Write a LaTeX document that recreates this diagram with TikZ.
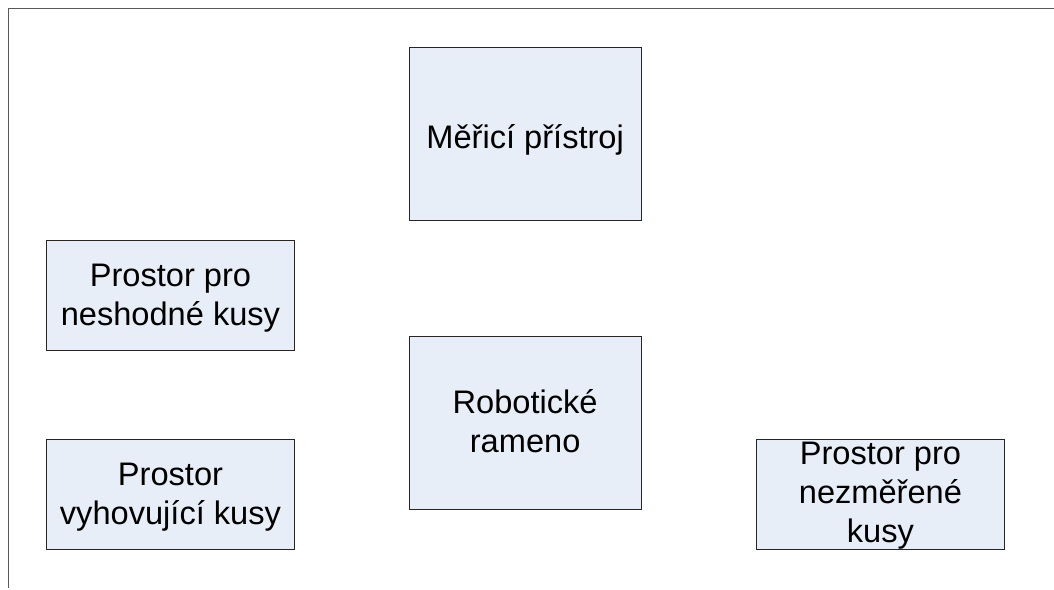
\documentclass[tikz,border=0pt]{standalone}
\usepackage{fontspec}
\setmainfont{Liberation Sans}
\definecolor{boxfill}{HTML}{E8EEF7}
\tikzset{
  box/.style={draw=black!85,line width=0.7pt,fill=boxfill,inner sep=0pt,anchor=north west},
  lbl/.style={align=center,font=\fontsize{32.6}{39}\selectfont,inner sep=0pt}}
\begin{document}
\begin{tikzpicture}[x=1pt,y=-1pt]
\useasboundingbox (0,0) rectangle (1054,589);
\coordinate (fa) at (8,588);
\coordinate (fb) at (8,8.8);
\coordinate (fc) at (1054,8.8);
\draw[line width=0.9pt,color=black!65] (fa) -- (fb) -- (fc);
\node[box,minimum width=231.6pt,minimum height=173pt,label={[lbl,yshift=-5.8pt]center:Měřicí přístroj}] (m) at (409,46.9) {};
\node[box,minimum width=231.6pt,minimum height=173pt,label={[lbl,yshift=1.2pt]center:Robotické\\rameno}] (r) at (409,336) {};
\node[box,minimum width=247.6pt,minimum height=110pt,label={[lbl,yshift=-3pt]center:Prostor pro\\neshodné kusy}] (n) at (46.3,240) {};
\node[box,minimum width=247.6pt,minimum height=110pt,label={[lbl,yshift=-3pt]center:Prostor\\vyhovující kusy}] (v) at (46.3,438.6) {};
\node[box,minimum width=247.6pt,minimum height=110pt,label={[lbl,yshift=-2pt]center:Prostor pro\\nezměřené\\kusy}] (z) at (756.3,438.6) {};
\end{tikzpicture}
\end{document}
